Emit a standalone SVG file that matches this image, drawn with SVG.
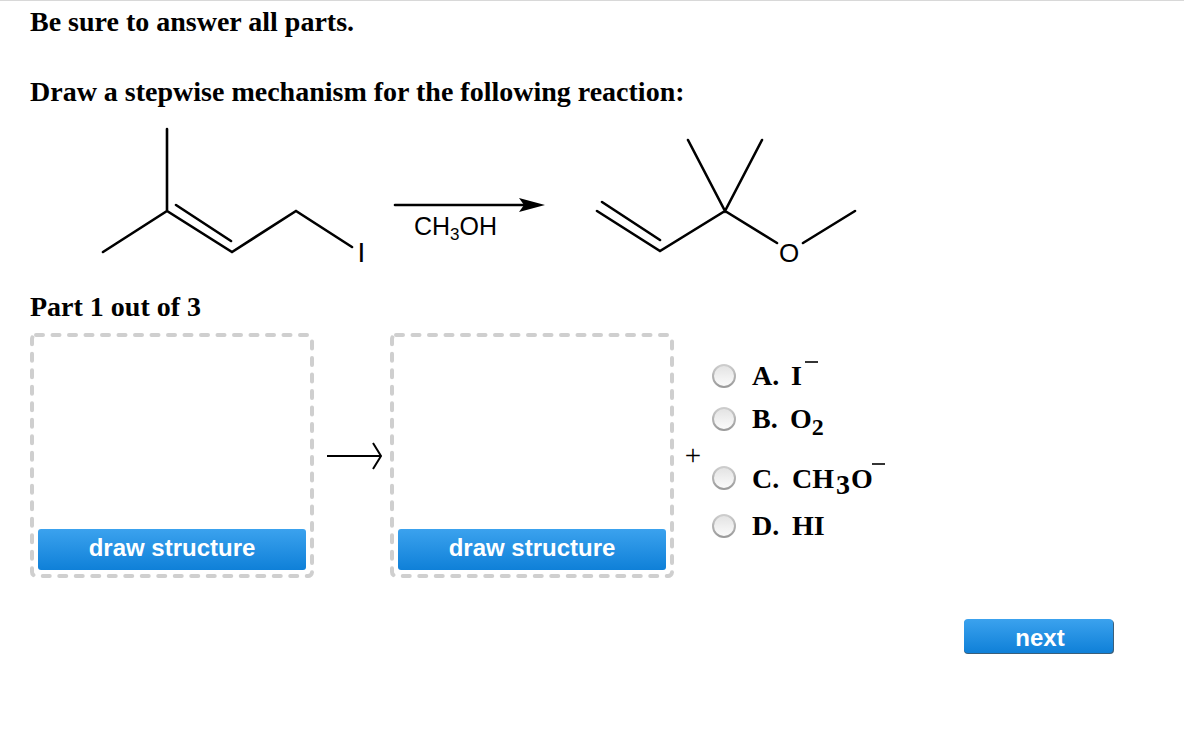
<svg xmlns="http://www.w3.org/2000/svg" width="1184" height="734" viewBox="0 0 1184 734">
<style>
.h{font-family:"Liberation Serif","Times New Roman",serif;font-weight:bold;font-size:28px;fill:#000}
.o{font-family:"Liberation Serif","Times New Roman",serif;font-weight:bold;font-size:28px;fill:#000}
.c{font-family:"Liberation Sans",Arial,sans-serif;fill:#000}
.b{font-family:"Liberation Sans",Arial,sans-serif;font-weight:bold;fill:#fff;text-anchor:middle}
.bond{stroke:#000;stroke-width:2.6;fill:none;stroke-linecap:round;stroke-linejoin:miter}
.box{fill:none;stroke:#cfcfcf;stroke-width:4;stroke-dasharray:7 9.5;stroke-linecap:round}
.radio{fill:url(#rg);stroke:url(#rs);stroke-width:2}
.minus{stroke:#000;stroke-width:1.6}
</style>
<defs>
<linearGradient id="bg" x1="0" y1="0" x2="0" y2="1"><stop offset="0" stop-color="#3ba2ee"/><stop offset="1" stop-color="#0f80d8"/></linearGradient>
<linearGradient id="rg" x1="0" y1="0" x2="0" y2="1"><stop offset="0" stop-color="#e2e2e2"/><stop offset="0.6" stop-color="#f2f2f2"/><stop offset="1" stop-color="#fbfbfb"/></linearGradient>
<linearGradient id="rs" x1="0" y1="0" x2="0" y2="1"><stop offset="0" stop-color="#cdcdcd"/><stop offset="1" stop-color="#9a9a9a"/></linearGradient>
</defs>
<rect width="1184" height="734" fill="#fff"/>
<rect width="1184" height="1" fill="#d8d8d8"/>
<g id="titles">
<text class="h" x="30" y="31">Be sure to answer all parts.</text>
<text class="h" x="30" y="101">Draw a stepwise mechanism for the following reaction:</text>
<text class="h" x="30" y="316">Part 1 out of 3</text>
</g>
<g id="reactant">
<path class="bond" d="M167 129V211M103 252L167 211L232 252L296 211L352 247M176 205L231 241"/>
<text class="c" x="361.500" y="262" font-size="28" text-anchor="middle">I</text>
</g>
<g id="reagent-arrow">
<path class="bond" d="M395 205H525"/>
<path d="M519 198L545 205L519 212L524 205Z" fill="#000"/>
<text class="c" x="414" y="235" font-size="25">CH<tspan font-size="17" dy="5">3</tspan><tspan dy="-5">OH</tspan></text>
</g>
<g id="product">
<path class="bond" d="M688 140L725 211L762 140M597 211L660 251L725 211L777 243M602 202L660 240M803 243L855 211"/>
<text class="c" x="789" y="262" font-size="26" text-anchor="middle">O</text>
</g>
<g id="box1">
<rect class="box" x="32" y="335" width="280" height="241" rx="4"/>
<rect x="38" y="529" width="268" height="41" rx="3" fill="url(#bg)"/>
<text class="b" x="172" y="556" font-size="24">draw structure</text>
</g>
<g id="box2">
<rect class="box" x="392" y="335" width="280" height="241" rx="4"/>
<rect x="398" y="529" width="268" height="41" rx="3" fill="url(#bg)"/>
<text class="b" x="532" y="556" font-size="24">draw structure</text>
</g>
<g id="connectors">
<path d="M327 456H381M373 443L381 456L373 469" fill="none" stroke="#000" stroke-width="2"/>
</g>
<text x="693" y="465" font-size="29" text-anchor="middle" style="font-family:'Liberation Serif',serif">+</text>
<g id="option-a">
<circle class="radio" cx="724" cy="376" r="11"/>
<text class="o" x="752" y="385">A.</text>
<text class="o" x="791" y="385">I</text>
<path class="minus" d="M805 362H818"/>
</g>
<g id="option-b">
<circle class="radio" cx="724" cy="419" r="11"/>
<text class="o" x="752" y="428">B.</text>
<text class="o" x="790" y="428">O<tspan font-size="24" dy="7">2</tspan></text>
</g>
<g id="option-c">
<circle class="radio" cx="724" cy="478" r="11"/>
<text class="o" x="752" y="488">C.</text>
<text class="o" x="792" y="488">CH<tspan dy="6" dx="2">3</tspan><tspan dy="-6" dx="1">O</tspan></text>
<path class="minus" d="M872 464H885"/>
</g>
<g id="option-d">
<circle class="radio" cx="724" cy="526" r="11"/>
<text class="o" x="752" y="535">D.</text>
<text class="o" x="792" y="535">HI</text>
</g>
<g id="next">
<rect x="964" y="620" width="150" height="34" rx="4" fill="#3b5f7a"/>
<rect x="964" y="619" width="149" height="34" rx="4" fill="url(#bg)"/>
<text class="b" x="1040" y="646" font-size="24">next</text>
</g>
</svg>
